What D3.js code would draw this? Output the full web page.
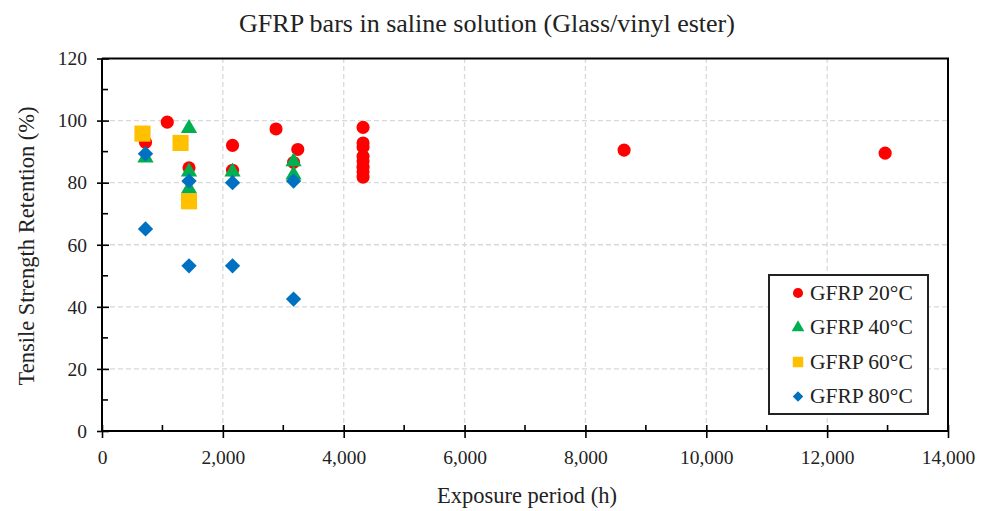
<!DOCTYPE html>
<html>
<head>
<meta charset="utf-8">
<script src="https://cdn.jsdelivr.net/npm/d3@7"></script>
<style>
  body { margin: 0; background: #fff; }
  svg { display: block; font-family: "Liberation Serif", "Times New Roman", serif; }
  .grid line { stroke: #d9d9d9; stroke-width: 1.3; stroke-dasharray: 5,3; }
</style>
</head>
<body>
<svg id="chart" width="985" height="511"></svg>
<script>
// exposure period (h), retention (%)
var gfrp20 = [
  [720, 93], [1080, 99.5], [1440, 84.8], [2160, 92], [2160, 84], [2880, 97.3],
  [3170, 86.5], [3240, 90.7], [4320, 97.8], [4320, 92.8], [4320, 91.5], [4320, 88.5],
  [4320, 87], [4320, 85], [4320, 83.5], [4320, 81.8], [8640, 90.5], [12960, 89.5]
];
var gfrp40 = [[720, 88], [1440, 97.5], [1440, 83.5], [1440, 78], [2160, 83.5], [3170, 86.8], [3170, 82.5]];
var gfrp60 = [[670, 95.8], [1300, 92.8], [1440, 74]];
var gfrp80 = [[720, 89.3], [720, 65.1], [1440, 80.5], [1440, 53.2], [2160, 80], [2160, 53.2], [3170, 80.5], [3170, 42.5]];

var seriesNames = ["GFRP 20°C", "GFRP 40°C", "GFRP 60°C", "GFRP 80°C"];
var xTicks = [0, 2000, 4000, 6000, 8000, 10000, 12000, 14000];
var yTicks = [0, 20, 40, 60, 80, 100, 120];

// diamonds are squares turned 45 degrees
var series = [
  { name: seriesNames[0], data: gfrp20, color: "#ff0000", shape: d3.symbolCircle, size: 135, rot: 0 },
  { name: seriesNames[1], data: gfrp40, color: "#00b050", shape: d3.symbolTriangle, size: 115, rot: 0 },
  { name: seriesNames[2], data: gfrp60, color: "#ffc000", shape: d3.symbolSquare, size: 260, rot: 0 },
  { name: seriesNames[3], data: gfrp80, color: "#0070c0", shape: d3.symbolSquare, size: 118, rot: 45 }
];

var svg = d3.select("#chart");
var margin = { top: 58.5, right: 37, bottom: 80, left: 102 };
var W = 985, H = 511;

var x = d3.scaleLinear().domain([0, 14000]).range([margin.left, W - margin.right]);
var y = d3.scaleLinear().domain([0, 120]).range([H - margin.bottom, margin.top]);

// gridlines
var grid = svg.append("g").attr("class", "grid");
grid.selectAll("line.h").data(yTicks.slice(1, -1)).enter().append("line")
  .attr("x1", x(0)).attr("x2", x(14000))
  .attr("y1", function(d) { return y(d); }).attr("y2", function(d) { return y(d); });
grid.selectAll("line.v").data(xTicks.slice(1, -1)).enter().append("line")
  .attr("y1", y(0)).attr("y2", y(120))
  .attr("x1", function(d) { return x(d); }).attr("x2", function(d) { return x(d); });

// frame on top and right
svg.append("path")
  .attr("d", "M" + x(0) + "," + y(120) + "H" + x(14000) + "V" + y(0))
  .attr("fill", "none").attr("stroke", "#000").attr("stroke-width", 2);

// axes
var fmt = d3.format(",");
var xAxis = svg.append("g")
  .attr("transform", "translate(0," + y(0) + ")")
  .call(d3.axisBottom(x).tickValues(xTicks).tickFormat(fmt).tickSize(7).tickPadding(12));
var yAxis = svg.append("g")
  .attr("transform", "translate(" + x(0) + ",0)")
  .call(d3.axisLeft(y).tickValues(yTicks).tickSize(5).tickPadding(10));

[xAxis, yAxis].forEach(function(a) {
  a.select(".domain").attr("stroke-width", 2).attr("stroke", "#000");
  a.selectAll(".tick line").attr("stroke-width", 1.6);
  a.selectAll(".tick text").attr("font-family", "Liberation Serif").attr("font-size", 19.5).attr("fill", "#222");
});
xAxis.selectAll(".tick line").attr("y1", -6);
yAxis.selectAll(".tick line").attr("x1", 7);
xAxis.select(".domain").attr("d", "M" + x(0) + ",0H" + x(14000));
yAxis.select(".domain").attr("d", "M0," + y(0) + "V" + y(120));

// minor ticks, inside
var xMinor = d3.range(1000, 14000, 2000);
var yMinor = d3.range(10, 120, 20);
svg.append("g").selectAll("line").data(xMinor).enter().append("line")
  .attr("x1", function(d) { return x(d); }).attr("x2", function(d) { return x(d); })
  .attr("y1", y(0)).attr("y2", y(0) - 6)
  .attr("stroke", "#000").attr("stroke-width", 1.6);
svg.append("g").selectAll("line").data(yMinor).enter().append("line")
  .attr("y1", function(d) { return y(d); }).attr("y2", function(d) { return y(d); })
  .attr("x1", x(0)).attr("x2", x(0) + 6)
  .attr("stroke", "#000").attr("stroke-width", 1.6);

// points
series.forEach(function(s) {
  var sym = d3.symbol().type(s.shape).size(s.size);
  svg.append("g").selectAll("path").data(s.data).enter().append("path")
    .attr("d", sym)
    .attr("transform", function(d) { return "translate(" + x(d[0]) + "," + y(d[1]) + ") rotate(" + s.rot + ")"; })
    .attr("fill", s.color);
});

// titles
svg.append("text").attr("x", 487).attr("y", 32).attr("text-anchor", "middle")
  .attr("font-size", 26).attr("fill", "#222")
  .text("GFRP bars in saline solution (Glass/vinyl ester)");
svg.append("text").attr("x", 527).attr("y", 503).attr("text-anchor", "middle")
  .attr("font-size", 22.5).attr("fill", "#222")
  .text("Exposure period (h)");
svg.append("text").attr("transform", "translate(34," + 246 + ") rotate(-90)")
  .attr("text-anchor", "middle").attr("font-size", 22.5).attr("fill", "#222")
  .text("Tensile Strength Retention (%)");

// legend
var lg = svg.append("g").attr("transform", "translate(769,275)");
lg.append("rect").attr("width", 159).attr("height", 139)
  .attr("fill", "#fff").attr("stroke", "#222").attr("stroke-width", 2);
var legendSizes = [80, 70, 110, 55];
series.forEach(function(s, i) {
  var row = lg.append("g").attr("transform", "translate(0," + (18 + i * 34.5) + ")");
  row.append("path").attr("d", d3.symbol().type(s.shape).size(legendSizes[i]))
    .attr("transform", "translate(29,0) rotate(" + s.rot + ")").attr("fill", s.color);
  row.append("text").attr("x", 41).attr("y", 6.5).attr("font-size", 21.5).attr("fill", "#222").text(s.name);
});
</script>
</body>
</html>
